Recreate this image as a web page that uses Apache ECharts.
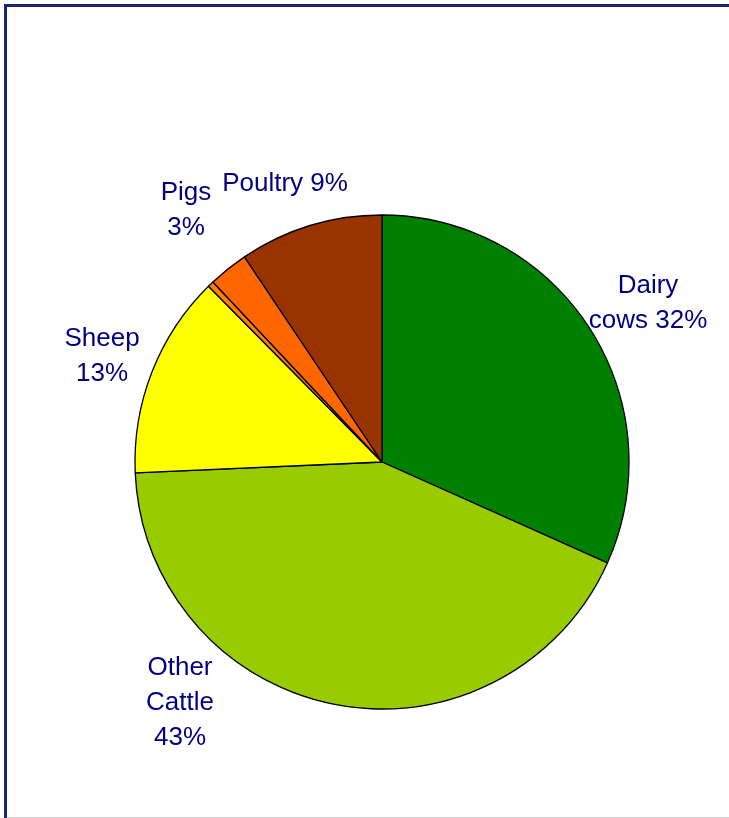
<!DOCTYPE html>
<html>
<head>
<meta charset="utf-8">
<script src="https://cdn.jsdelivr.net/npm/echarts@6/dist/echarts.min.js"></script>
<style>
  html, body { margin: 0; padding: 0; background: #fff; }
  #main { width: 729px; height: 818px; }
</style>
</head>
<body>
<div id="main"></div>
<script>
var myChart = echarts.init(document.getElementById('main'));

// slices, clockwise from 12 o'clock
var names = ['Dairy\ncows', 'Other\nCattle', 'Sheep', 'Goats', 'Pigs', 'Poultry'];
var values = [31.7, 42.6, 13.3, 0.4, 2.6, 9.4];
var colors = ['#008000', '#99cc00', '#ffff00', '#ff7f00', '#ff6600', '#993300'];
// text shown after each name ('' = no label)
var pctText = ['32%', '43%', '13%', '', '3%', '9%'];

// label centres (px)
var labelPos = [[648, 303], [180, 703], [102, 356], null, [186, 210], [285, 184]];

var data = names.map(function (n, i) {
  return { name: n, value: values[i], itemStyle: { color: colors[i] } };
});

var option = {
  animation: false,
  backgroundColor: '#fff',
  graphic: [
    {
      type: 'rect',
      shape: { x: 5.5, y: 5.5, width: 760, height: 840 },
      style: { fill: 'none', stroke: '#1c2470', lineWidth: 3 }
    },
    {
      type: 'line',
      shape: { x1: 7, y1: 817.5, x2: 729, y2: 817.5 },
      style: { stroke: '#d8d8d8', lineWidth: 1 }
    }
  ],
  series: [{
    type: 'pie',
    center: [382, 462],
    radius: 247,
    startAngle: 90,
    clockwise: true,
    data: data,
    itemStyle: { borderColor: '#000', borderWidth: 1.3 },
    emphasis: { disabled: true },
    labelLine: { show: false },
    label: {
      show: true,
      position: 'outside',
      color: '#000080',
      fontFamily: 'Liberation Sans, Arial, sans-serif',
      fontSize: 26,
      lineHeight: 35,
      align: 'center',
      overflow: 'none',
      width: 200,
      formatter: function (p) {
        var t = pctText[p.dataIndex];
        if (!t) return '';
        if (p.dataIndex === 5) return 'Poultry ' + t;
        if (p.dataIndex === 0) return 'Dairy\ncows ' + t;
        return p.name + '\n' + t;
      }
    },
    labelLayout: function (params) {
      var pos = labelPos[params.dataIndex];
      if (!pos) return {};
      return { x: pos[0], y: pos[1], align: 'center', verticalAlign: 'middle' };
    }
  }]
};

myChart.setOption(option);
</script>
</body>
</html>
